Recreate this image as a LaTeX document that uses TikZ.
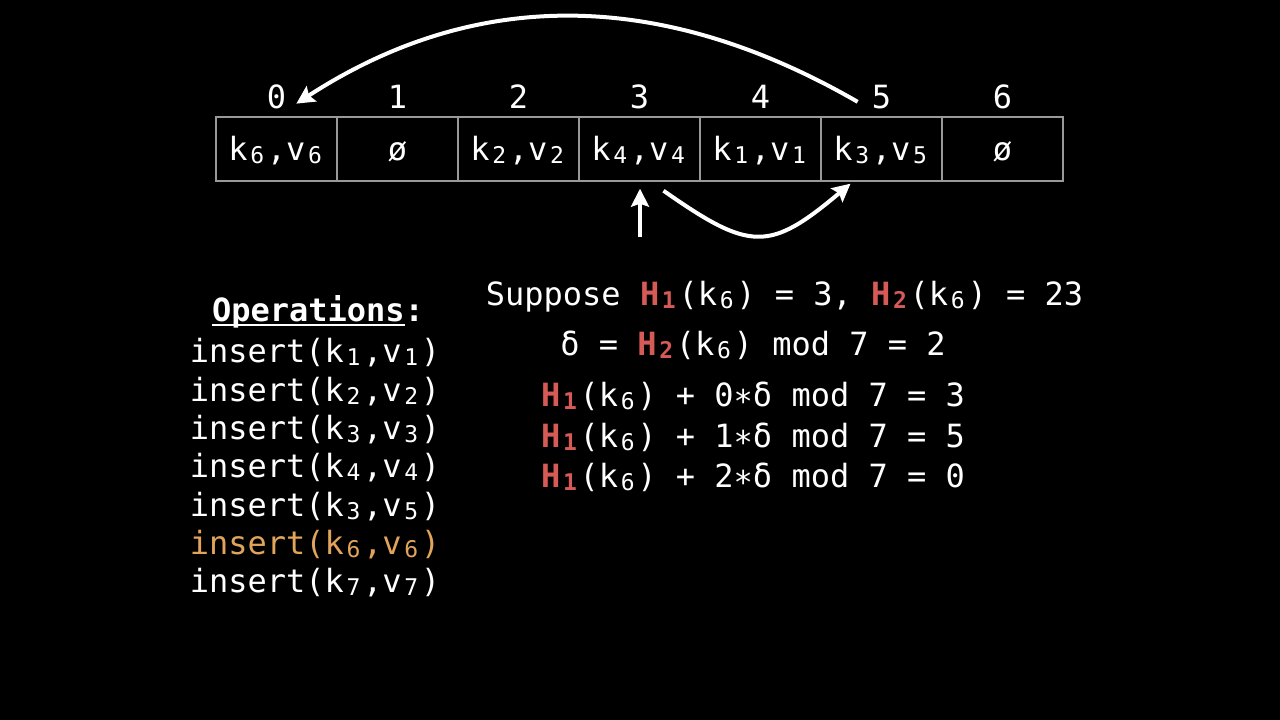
\documentclass[tikz,border=0pt]{standalone}
\usepackage{fontspec}
\setmainfont{DejaVu Sans Mono}
\usetikzlibrary{positioning,calc,arrows.meta}
\definecolor{hashred}{RGB}{214,90,86}
\definecolor{curop}{RGB}{226,164,90}
\newcommand\lo[1]{\makebox[0.602em]{\raisebox{-3pt}{\fontsize{23}{23}\selectfont#1}}}
\newcommand\Hf[1]{\textcolor{hashred}{\textbf{H\lo{#1}}}}
\newcommand\uline[1]{\setbox0\hbox{#1}\rlap{\rule[-4pt]{\wd0}{2pt}}\box0}

\begin{document}
\begin{tikzpicture}[x=1pt,y=1pt,
  every node/.style={text=white,font=\fontsize{32}{38}\selectfont,inner sep=0pt},
  cell/.style={draw=gray!80,line width=1.4pt,minimum width=121pt,minimum height=64pt,text height=26pt,text depth=2pt},
  jump/.style={draw=white,line width=4pt,-{Stealth[length=18pt,width=18pt,inset=3pt]}}]
\fill[black] (0,0) rectangle (1280,720);
\useasboundingbox (0,0) rectangle (1280,720);

% the table and its slots
\foreach \t [count=\i from 0] in {{k\lo6,v\lo6},ø,{k\lo2,v\lo2},{k\lo4,v\lo4},{k\lo1,v\lo1},{k\lo3,v\lo5},ø}{
  \node[cell] (c\i) at (276.5+121*\i,571) {\t};
  \node[above=8pt of c\i.north,anchor=base] (i\i) {\i};
}

% probing
\draw[jump]
  ($(c3.south)+(0.5,-55)$) -- ($(c3.south)+(0.5,-7)$);
\draw[jump]
  ($(c3.south)+(24,-9)$) to[out=-35,in=-140,looseness=1.45] ($(c5.south)+(-31,-2)$);
\draw[jump]
  ($(i5.west)+(-14,-5)$) to[out=150,in=33] ($(i0.east)+(10,-7)$);

% operations
\node[anchor=base] (opsTitle) at (318,398) {\textbf{\uline{Operations}:}};
\foreach \k/\v/\c [count=\n] in {1/1/white,2/2/white,3/3/white,4/4/white,3/5/white,6/6/curop,7/7/white}
  \node[anchor=base,text=\c] (op\n) at (315,357-38.3*\n+38.3) {insert(k\lo\k,v\lo\v)};

% double hashing
\node[anchor=base] (suppose) at (784.5,414) {Suppose \Hf{1}(k\lo6) = 3, \Hf{2}(k\lo6) = 23};
\node[anchor=base] (delta) at (753,364) {δ = \Hf{2}(k\lo6) mod 7 = 2};
\node[anchor=base] (try0) at (753,313) {\Hf{1}(k\lo6) + 0∗δ mod 7 = 3};
\node[anchor=base] (try1) at (753,272) {\Hf{1}(k\lo6) + 1∗δ mod 7 = 5};
\node[anchor=base] (try2) at (753,232) {\Hf{1}(k\lo6) + 2∗δ mod 7 = 0};
\end{tikzpicture}
\end{document}
